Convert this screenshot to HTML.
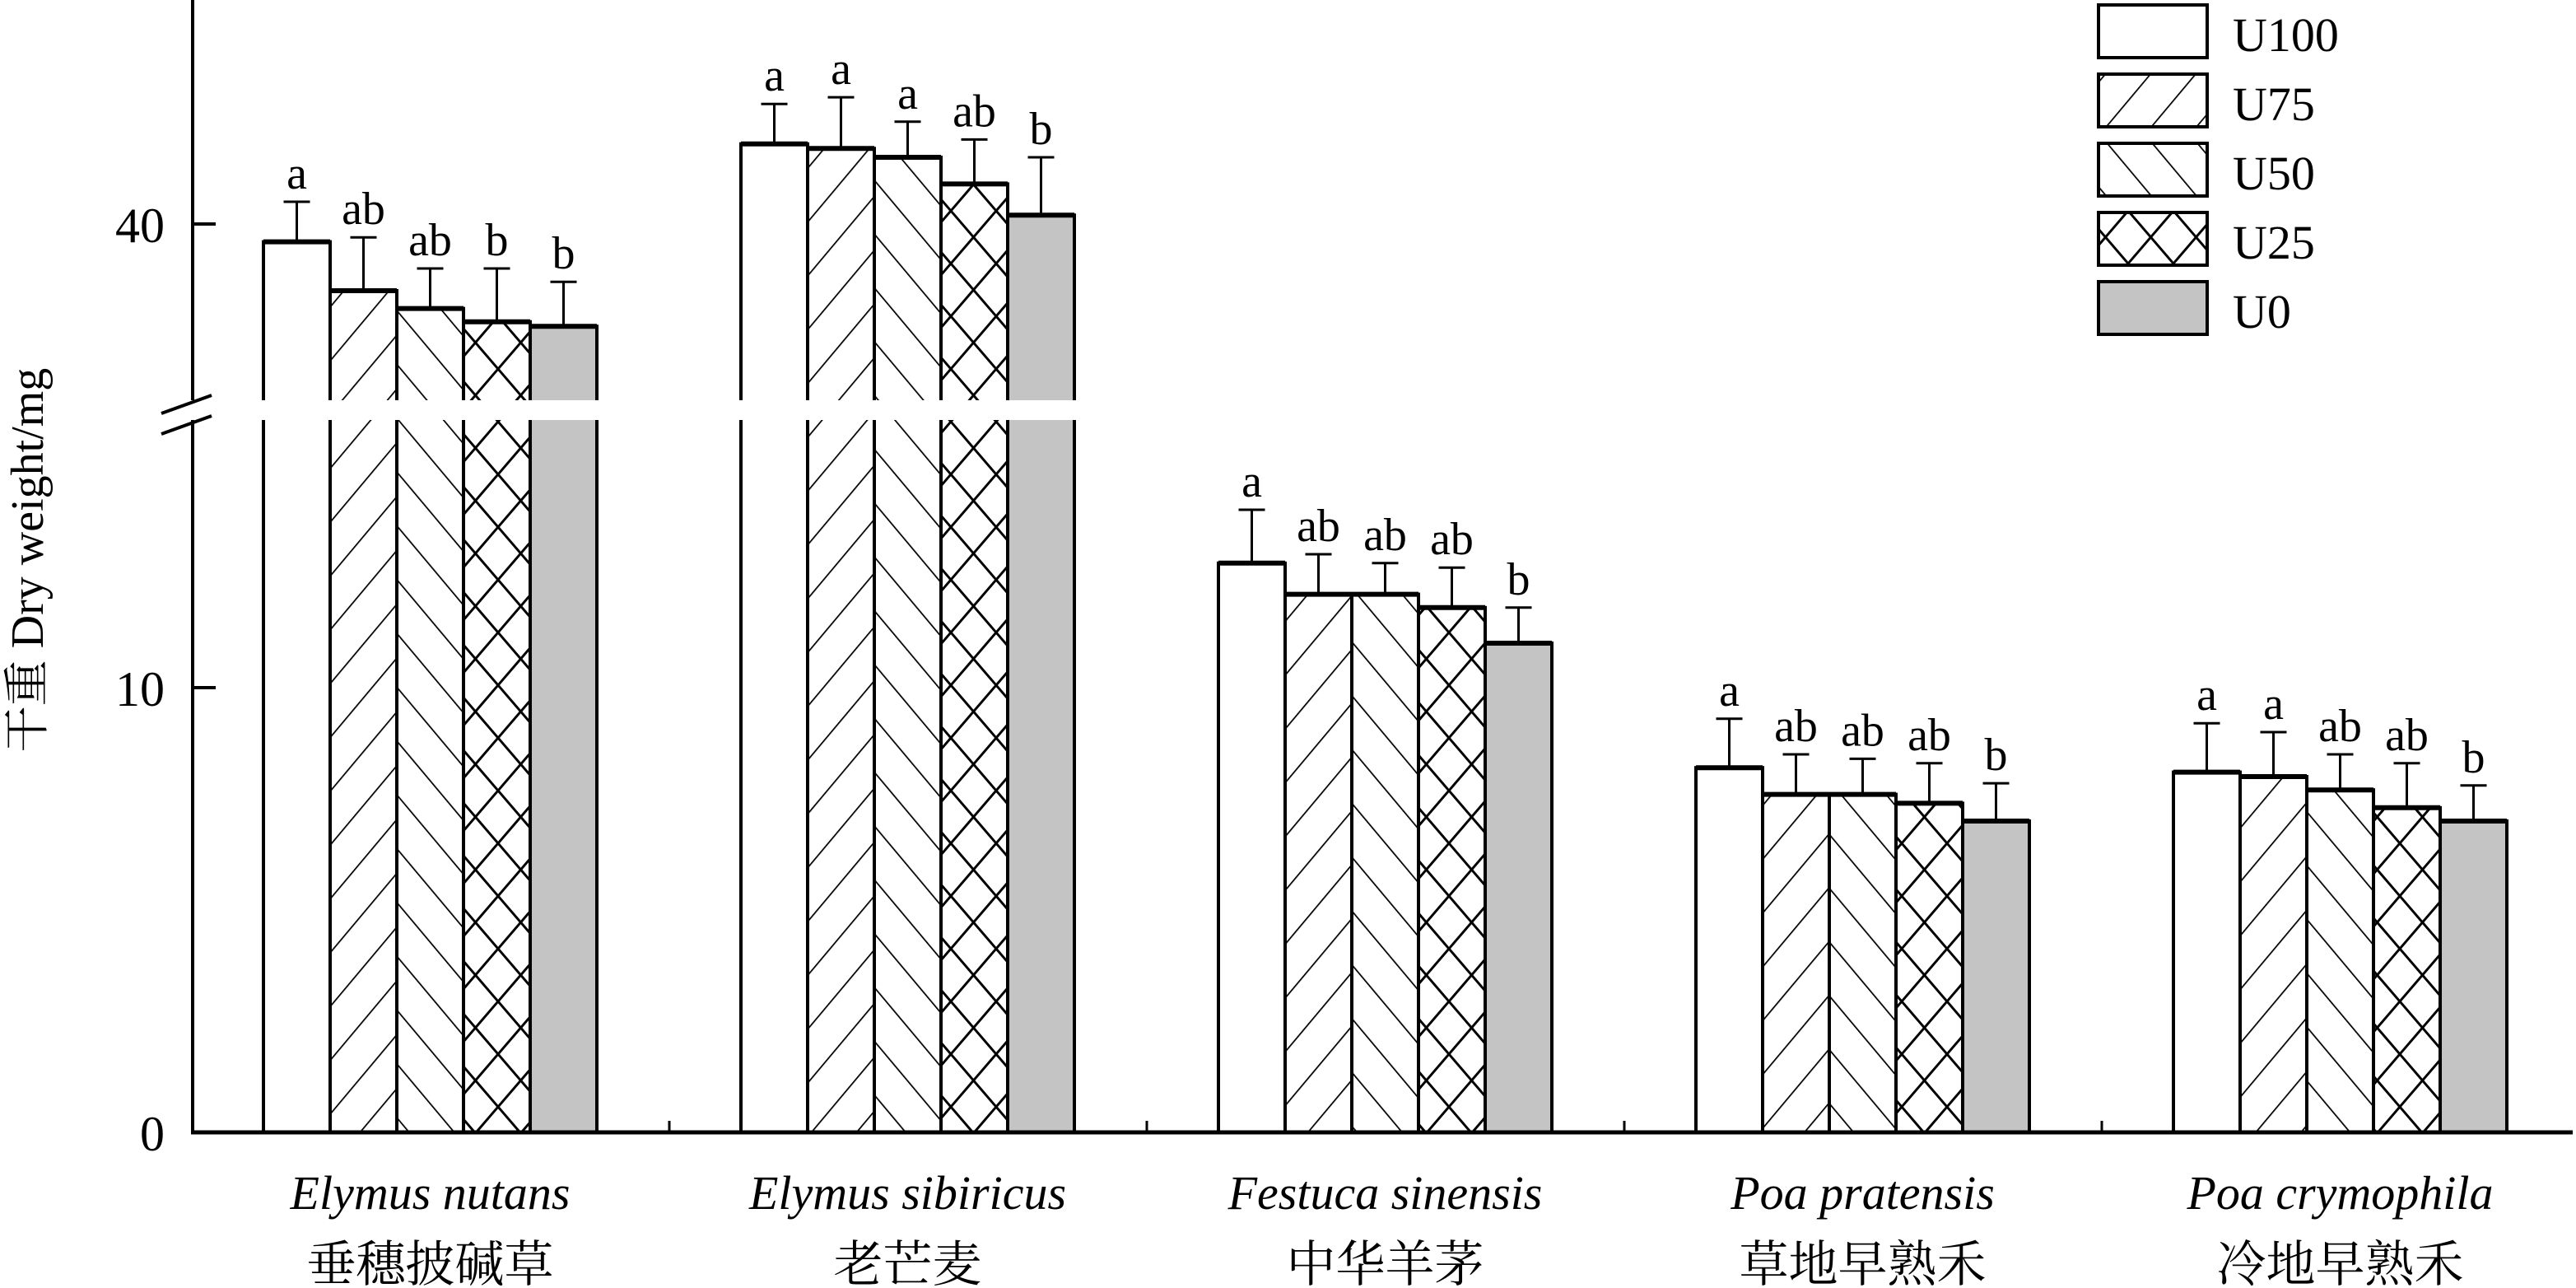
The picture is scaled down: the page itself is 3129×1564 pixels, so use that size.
<!DOCTYPE html>
<html><head><meta charset="utf-8">
<style>
html,body{margin:0;padding:0;background:#fff;}
svg{display:block;}
text{font-family:"Liberation Serif","Noto Serif CJK SC",serif;fill:#000;}
</style></head>
<body>
<svg id="chart" width="3129" height="1564" viewBox="0 0 3129 1564" xmlns="http://www.w3.org/2000/svg">
<defs>
<pattern id="p75" patternUnits="userSpaceOnUse" width="42" height="42" patternTransform="rotate(40)"><rect width="42" height="42" fill="#fff"/><line x1="0" y1="0" x2="0" y2="42" stroke="#000" stroke-width="3.5"/></pattern>
<pattern id="p50" patternUnits="userSpaceOnUse" width="42" height="42" patternTransform="rotate(-40)"><rect width="42" height="42" fill="#fff"/><line x1="0" y1="0" x2="0" y2="42" stroke="#000" stroke-width="3.5"/></pattern>
<pattern id="p25" patternUnits="userSpaceOnUse" width="55" height="64"><rect width="55" height="64" fill="#fff"/><line x1="0" y1="64" x2="55" y2="0" stroke="#000" stroke-width="3"/><line x1="0" y1="0" x2="55" y2="64" stroke="#000" stroke-width="3"/></pattern>
</defs>
<g id="plot"></g>
</svg>
<script>
const categories = ["Elymus nutans","Elymus sibiricus","Festuca sinensis","Poa pratensis","Poa crymophila"];
const categoriesCN = ["垂穗披碱草","老芒麦","中华羊茅","草地早熟禾","冷地早熟禾"];
const seriesNames = ["U100","U75","U50","U25","U0"];
const U100 = [39.6, 41.8, 12.8, 8.2, 8.1];
const U75  = [38.5, 41.7, 12.1, 7.6, 8.0];
const U50  = [38.1, 41.5, 12.1, 7.6, 7.7];
const U25  = [37.8, 40.9, 11.8, 7.4, 7.3];
const U0   = [37.7, 40.2, 11.0, 7.0, 7.0];
const errU100 = [0.9, 0.9, 1.2, 1.1, 1.1];
const errU75  = [1.2, 1.15, 0.9, 0.9, 1.0];
const errU50  = [0.9, 0.8, 0.7, 0.8, 0.8];
const errU25  = [1.2, 1.0, 0.9, 0.9, 1.0];
const errU0   = [1.0, 1.3, 0.8, 0.85, 0.8];
const lettersU100 = ["a","a","a","a","a"];
const lettersU75  = ["ab","a","ab","ab","a"];
const lettersU50  = ["ab","a","ab","ab","ab"];
const lettersU25  = ["b","ab","ab","ab","ab"];
const lettersU0   = ["b","b","b","b","b"];
const lowerTicks = [0, 10];
const upperTicks = [40];

const series = [U100,U75,U50,U25,U0];
const errs = [errU100,errU75,errU50,errU25,errU0];
const letters = [lettersU100,lettersU75,lettersU50,lettersU25,lettersU0];
const fills = ["#fff","url(#p75)","url(#p50)","url(#p25)","#c4c4c4"];

const NS="http://www.w3.org/2000/svg";
const g=document.getElementById('plot');
function mk(tag,attrs,parent){const e=document.createElementNS(NS,tag);for(const k in attrs)e.setAttribute(k,attrs[k]);(parent||g).appendChild(e);return e;}

// axis geometry
const axisX=234, baseY=1375, xEnd=3125;
const pxPerUnit=54;
const gapTop=486, gapBot=510;
const upperRef=40, upperRefY=272;
function yLower(v){return baseY - v*pxPerUnit;}
function yUpper(v){return upperRefY - (v-upperRef)*pxPerUnit;}
function yScale(v){return v>30 ? yUpper(v) : yLower(v);}
const groupW=580, groupStart=320, barW=81;
function xBar(c,s){return groupStart + c*groupW + s*barW;}

// bars
for(let s=0;s<5;s++){
  for(let c=0;c<5;c++){
    const v=series[s][c];
    const x=xBar(c,s);
    const top=yScale(v);
    const bg=mk('g',{});
    
    
    if(v>30){
      mk('rect',{x:x,y:top,width:barW,height:gapTop-top,fill:fills[s],stroke:'none'},bg);
      mk('rect',{x:x,y:gapBot,width:barW,height:baseY-gapBot,fill:fills[s],stroke:'none'},bg);
      mk('path',{d:`M${x},${gapTop}V${top}H${x+barW}V${gapTop}`,fill:'none',stroke:'#000','stroke-width':4},bg);
      mk('path',{d:`M${x},${gapBot}V${baseY}M${x+barW},${gapBot}V${baseY}`,fill:'none',stroke:'#000','stroke-width':4},bg);
    } else {
      mk('rect',{x:x,y:top,width:barW,height:baseY-top,fill:fills[s],stroke:'#000','stroke-width':4},bg);
    }
    mk('line',{x1:x,y1:top,x2:x+barW,y2:top,stroke:'#000','stroke-width':6},bg);
    // error bar
    const et=yScale(v+errs[s][c]);
    const cx=x+barW/2;
    const eb=mk('path',{d:`M${cx},${top}V${et}M${cx-16},${et}H${cx+16}`,stroke:'#000','stroke-width':3,fill:'none'});
    
    
    const t=mk('text',{x:cx,y:et-16,'text-anchor':'middle','font-size':56});
    
    
    t.textContent=letters[s][c];
  }
}

// axes
const ax=mk('g',{});


mk('line',{x1:axisX,y1:0,x2:axisX,y2:gapTop,stroke:'#000','stroke-width':4},ax);
mk('line',{x1:axisX,y1:gapBot,x2:axisX,y2:baseY+2,stroke:'#000','stroke-width':4},ax);
mk('line',{x1:196,y1:502,x2:257,y2:480,stroke:'#000','stroke-width':4},ax);
mk('line',{x1:196,y1:527,x2:257,y2:505,stroke:'#000','stroke-width':4},ax);
lowerTicks.forEach(v=>{
  const y=yLower(v);
  mk('line',{x1:axisX,y1:y,x2:axisX+28,y2:y,stroke:'#000','stroke-width':4},ax);
  const t=mk('text',{x:200,y:y+22,'text-anchor':'end','font-size':60},ax);
  
  
  t.textContent=v;
});
upperTicks.forEach(v=>{
  const y=yUpper(v);
  mk('line',{x1:axisX,y1:y,x2:axisX+28,y2:y,stroke:'#000','stroke-width':4},ax);
  const t=mk('text',{x:200,y:y+22,'text-anchor':'end','font-size':60},ax);
  
  
  t.textContent=v;
});
const xa=mk('g',{});


mk('line',{x1:axisX-2,y1:baseY,x2:xEnd,y2:baseY,stroke:'#000','stroke-width':5},xa);
for(let c=1;c<=5;c++){
  const x=axisX+c*groupW-1;
  mk('line',{x1:x,y1:baseY,x2:x,y2:baseY-14,stroke:'#000','stroke-width':3},xa);
}
categories.forEach((name,c)=>{
  const cx=xBar(c,0)+barW*2.5;
  const t=mk('text',{x:cx,y:1468,'text-anchor':'middle','font-size':58,'font-style':'italic'},xa);
  
  
  t.textContent=name;
  const t2=mk('text',{x:cx,y:1556,'text-anchor':'middle','font-size':60},xa);
  
  
  t2.textContent=categoriesCN[c];
});
const yt=mk('text',{x:0,y:0,'text-anchor':'middle','font-size':56,transform:'translate(52,680) rotate(-90)'});


yt.textContent='干重 Dry weight/mg';

// legend
const lg=mk('g',{});


seriesNames.forEach((n,s)=>{
  const y=6+s*84;
  const e=mk('g',{},lg);
  
  
  mk('rect',{x:2549,y:y,width:132,height:64,fill:fills[s],stroke:'#000','stroke-width':4},e);
  const t=mk('text',{x:2712,y:y+56,'font-size':58},e);
  t.textContent=n;
});
</script>
</body></html>
